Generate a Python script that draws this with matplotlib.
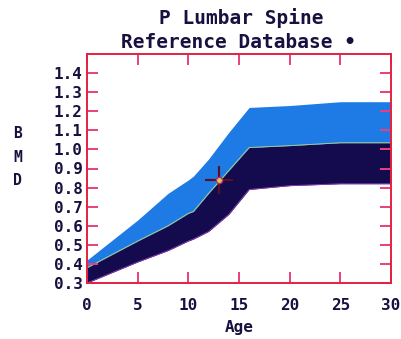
import matplotlib
matplotlib.use("Agg")
import matplotlib.pyplot as plt
import numpy as np

# Data
ages = [0, 5, 8, 10, 10.5, 12, 14, 16, 20, 25, 30]
upper = [0.42, 0.63, 0.77, 0.84, 0.86, 0.95, 1.09, 1.22, 1.23, 1.25, 1.25]
middle = [0.38, 0.52, 0.60, 0.665, 0.675, 0.77, 0.89, 1.01, 1.02, 1.035, 1.035]
lower = [0.30, 0.41, 0.47, 0.52, 0.53, 0.57, 0.66, 0.79, 0.81, 0.82, 0.82]
patient_age = [13.0]
patient_bmd = [0.84]
y_ticks = [0.3, 0.4, 0.5, 0.6, 0.7, 0.8, 0.9, 1.0, 1.1, 1.2, 1.3, 1.4]
x_ticks = [0, 5, 10, 15, 20, 25, 30]
title1 = "P Lumbar Spine"
title2 = "Reference Database \u2022"

W, H = 401, 339
fig = plt.figure(figsize=(W / 100, H / 100), dpi=100)
fig.patch.set_facecolor("white")
ax = fig.add_axes([87 / W, 1 - 283 / H, (391 - 87) / W, (283 - 54) / H])

light_blue = "#1e7be6"
navy = "#130b4e"
frame_red = "#e4213f"
tick_col = "#e8407a"
text_col = "#1a1040"
mono = "DejaVu Sans Mono"

ax.fill_between(ages, middle, upper, color=light_blue, lw=0, zorder=1)
ax.fill_between(ages, lower, middle, color=navy, lw=0, zorder=1)
ax.plot(ages, middle, color="#a8d888", lw=0.6, zorder=1.5)
ax.plot(ages, lower, color="#9a3ac0", lw=0.6, zorder=1.4)

# patient crosshair
ax.plot(patient_age, patient_bmd, marker="+", ms=20, mew=1.6, color="#5a1020", zorder=3)
ax.plot(patient_age, patient_bmd, marker="o", ms=4.5, mfc="#d8c860", mec="#b03060", mew=1.0, zorder=4)

ax.set_xlim(0, 30)
ax.set_ylim(0.3, 1.5)
ax.set_xticks(x_ticks)
ax.set_xticklabels([str(v) for v in x_ticks])
ax.set_yticks(y_ticks)
ax.set_yticklabels([f"{v:.1f}" for v in y_ticks])

for s in ax.spines.values():
    s.set_color(frame_red)
    s.set_linewidth(1.4)

ax.tick_params(axis="both", direction="in", length=8, width=1.4, color=tick_col,
               top=True, right=True, labelcolor=text_col)
ax.tick_params(axis="x", pad=11)
ax.tick_params(axis="y", pad=3)
for lab in ax.get_xticklabels() + ax.get_yticklabels():
    lab.set_fontfamily(mono)
    lab.set_fontweight("bold")
    lab.set_fontsize(11.5)

ax.set_xlabel("Age", fontfamily=mono, fontweight="bold", fontsize=11.5, color=text_col, labelpad=5)

fig.text(17.5 / W, 1 - 133 / H, "B", ha="center", va="center", fontfamily=mono,
         fontweight="bold", fontsize=10.5, color=text_col)
fig.text(17.5 / W, 1 - 157 / H, "M", ha="center", va="center", fontfamily=mono,
         fontweight="bold", fontsize=10.5, color=text_col)
fig.text(17.5 / W, 1 - 180.5 / H, "D", ha="center", va="center", fontfamily=mono,
         fontweight="bold", fontsize=10.5, color=text_col)

fig.text(241 / W, 1 - 18 / H, title1, ha="center", va="center", fontfamily=mono,
         fontweight="bold", fontsize=14, color=text_col)
fig.text(239 / W, 1 - 43 / H, title2, ha="center", va="center", fontfamily=mono,
         fontweight="bold", fontsize=14, color=text_col)

fig.savefig("out.png", dpi=100, facecolor="white")
